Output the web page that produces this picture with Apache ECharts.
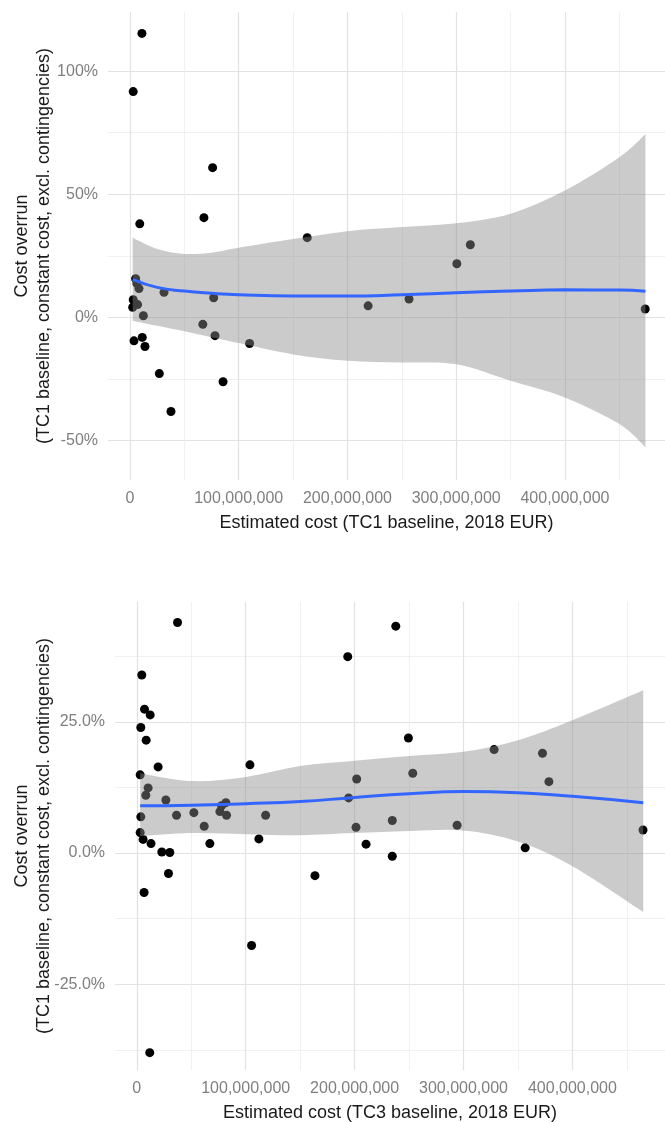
<!DOCTYPE html>
<html lang="en">
<head>
    <meta charset="utf-8">
    <title>Cost overrun vs estimated cost</title>
    <script src="https://cdn.jsdelivr.net/npm/echarts@6/dist/echarts.min.js"></script>
    <style>
        html, body { margin: 0; padding: 0; background: #fff; }
        #chart { width: 665px; height: 1122px; }
    </style>
</head>
<body>
<div id="chart"></div>
<script>
    // ---- top panel: TC1 baseline (cost in million EUR, overrun in %) ----
    var tc1Cost    = [11, 3, 76, 68, 9, 163, 313, 300.6, 219, 256.6, 473.8, 5.2, 6.4, 8.3, 31.3, 77, 3, 7, 2.5, 12.3, 67, 3.7, 11.3, 13.8, 78.2, 110, 27, 85.6, 37.7];
    var tc1Overrun = [115.3, 91.7, 60.8, 40.5, 38, 32.4, 29.5, 21.8, 4.7, 7.5, 3.4, 15.7, 13.7, 11.7, 10.2, 8, 7.2, 5.2, 4.1, 0.7, -2.8, -9.5, -8.1, -11.8, -7.4, -10.6, -22.8, -26.1, -38.2];
    // loess fit + confidence band
    var tc1FitX  = [2.5, 25, 50, 75, 100, 150, 200, 250, 300, 350, 400, 450, 474];
    var tc1Fit   = [15.5, 12.2, 10.7, 9.8, 9.2, 8.7, 8.7, 9.2, 10.0, 10.7, 11.2, 11.1, 10.6];
    var tc1Upper = [32.3, 27.8, 25.8, 26.3, 28.3, 31.8, 35.0, 36.7, 38.2, 42.1, 51.5, 65.0, 74.5];
    var tc1Lower = [-1.3, -3.4, -5.6, -8.0, -10.4, -15.0, -17.6, -18.3, -19.0, -25.7, -32.5, -43.3, -52.8];

    // ---- bottom panel: TC3 baseline ----
    var tc3Cost    = [37.4, 4.6, 7.1, 12.3, 3.7, 8.6, 19.6, 3.1, 103.9, 10.4, 8.3, 26.7, 81.8, 77.8, 3.7, 36.5, 52.4, 76.3, 82.4, 118.3, 61.9, 3.1, 5.8, 13.1, 67.1, 112.1, 23.0, 30.3, 29.1, 6.7, 105.4, 163.6, 11.9, 201.9, 253.4, 378.4, 194.5, 201.3, 234.6, 294.1, 464.8, 210.5, 234.6, 356.6, 237.8, 193.7, 249.4, 328.1, 372.5];
    var tc3Overrun = [43.9, 33.9, 27.4, 26.3, 23.9, 21.5, 16.4, 14.9, 16.8, 12.4, 11.0, 10.1, 9.6, 9.0, 6.9, 7.2, 7.7, 7.9, 7.2, 7.2, 5.1, 3.9, 2.6, 1.8, 1.8, 2.7, 0.2, 0.1, -3.9, -7.5, -17.6, -4.3, -38.0, 14.1, 15.2, 13.6, 10.5, 4.9, 6.2, 5.3, 4.4, 1.7, -0.6, 1.0, 43.2, 37.4, 21.9, 19.7, 19.0];
    var tc3FitX  = [3.1, 50, 100, 150, 200, 250, 300, 350, 400, 465];
    var tc3Fit   = [9.0, 9.1, 9.4, 9.8, 10.6, 11.3, 11.7, 11.5, 10.8, 9.6];
    var tc3Upper = [15.2, 13.7, 14.5, 16.6, 17.6, 18.5, 19.3, 21.5, 25.3, 31.0];
    var tc3Lower = [3.2, 3.8, 3.6, 3.4, 3.8, 4.2, 4.3, 2.2, -2.5, -11.2];

    // tick positions
    var costTicks      = [0, 100, 200, 300, 400];
    var costMinorTicks = [50, 150, 250, 350, 450];
    var tc1Ticks       = [-50, 0, 50, 100];
    var tc1MinorTicks  = [-25, 25, 75];
    var tc3Ticks       = [-25, 0, 25];
    var tc3MinorTicks  = [-37.5, -12.5, 12.5, 37.5];

    var FONT = "'Liberation Sans', Arial, sans-serif";
    var LABEL_COLOR = '#7f7f7f';
    var MAJOR = '#e2e2e2';
    var MINOR = '#ededed';

    function withCommas(m) {
        var s = String(Math.round(m * 1e6));
        return s.replace(/\B(?=(\d{3})+(?!\d))/g, ',');
    }

    function pairs(xs, ys) {
        var out = [];
        for (var i = 0; i < xs.length; i++) out.push([xs[i], ys[i]]);
        return out;
    }

    // catmull-rom -> cubic bezier segments through already projected points
    function curveThrough(pts) {
        var d = '';
        for (var i = 0; i < pts.length - 1; i++) {
            var p0 = pts[i - 1] || pts[i], p1 = pts[i], p2 = pts[i + 1], p3 = pts[i + 2] || pts[i + 1];
            var c1x = p1[0] + (p2[0] - p0[0]) / 6, c1y = p1[1] + (p2[1] - p0[1]) / 6;
            var c2x = p2[0] - (p3[0] - p1[0]) / 6, c2y = p2[1] - (p3[1] - p1[1]) / 6;
            d += ' C' + c1x + ' ' + c1y + ' ' + c2x + ' ' + c2y + ' ' + p2[0] + ' ' + p2[1];
        }
        return d;
    }

    function xAxes(grid, min, max, name) {
        return [
            {
                gridIndex: grid, type: 'value', min: min, max: max,
                name: name, nameLocation: 'middle', nameGap: 34, nameMoveOverlap: false,
                nameTextStyle: { fontFamily: FONT, fontSize: 18, color: '#1a1a1a' },
                axisLine: { show: false },
                axisTick: { show: false, customValues: costTicks },
                axisLabel: { customValues: costTicks, margin: 11, fontFamily: FONT, fontSize: 16, color: LABEL_COLOR, formatter: withCommas },
                splitLine: { show: true, lineStyle: { color: MAJOR, width: 1.2 } }
            },
            {
                gridIndex: grid, type: 'value', min: min, max: max, position: 'top',
                axisLine: { show: false },
                axisTick: { show: false, customValues: costMinorTicks },
                axisLabel: { show: false },
                splitLine: { show: true, lineStyle: { color: MINOR, width: 0.8 } }
            }
        ];
    }

    function yAxes(grid, min, max, ticks, minorTicks, fmt, gap) {
        return [
            {
                gridIndex: grid, type: 'value', min: min, max: max,
                name: 'Cost overrun\n(TC1 baseline, constant cost, excl. contingencies)',
                nameLocation: 'middle', nameRotate: 90, nameGap: gap, nameMoveOverlap: false,
                nameTextStyle: { fontFamily: FONT, fontSize: 18, lineHeight: 22, color: '#1a1a1a', align: 'center' },
                axisLine: { show: false },
                axisTick: { show: false, customValues: ticks },
                axisLabel: { customValues: ticks, margin: 10, fontFamily: FONT, fontSize: 16, color: LABEL_COLOR, formatter: fmt },
                splitLine: { show: true, lineStyle: { color: MAJOR, width: 1.2 } }
            },
            {
                gridIndex: grid, type: 'value', min: min, max: max, position: 'right',
                axisLine: { show: false },
                axisTick: { show: false, customValues: minorTicks },
                axisLabel: { show: false },
                splitLine: { show: true, lineStyle: { color: MINOR, width: 0.8 } }
            }
        ];
    }

    function panelSeries(xi, yi, cost, overrun, fitX, fit, lower, upper) {
        return [
            {
                type: 'scatter', xAxisIndex: xi, yAxisIndex: yi, z: 2,
                symbolSize: 9, itemStyle: { color: '#000', opacity: 1 },
                data: pairs(cost, overrun)
            },
            {   // confidence band, drawn over the points like ggplot does
                type: 'custom', xAxisIndex: xi, yAxisIndex: yi, z: 3, silent: true,
                data: [[fitX[0], upper[0]]],
                renderItem: function (params, api) {
                    var top = [], bottom = [];
                    for (var i = 0; i < fitX.length; i++) {
                        top.push(api.coord([fitX[i], upper[i]]));
                        bottom.push(api.coord([fitX[i], lower[i]]));
                    }
                    bottom.reverse();
                    var d = 'M' + top[0][0] + ' ' + top[0][1] + curveThrough(top) +
                        ' L' + bottom[0][0] + ' ' + bottom[0][1] + curveThrough(bottom) + ' Z';
                    return {
                        type: 'path',
                        shape: { pathData: d },
                        style: { fill: 'rgba(140,140,140,0.45)', stroke: null }
                    };
                }
            },
            {
                type: 'line', xAxisIndex: xi, yAxisIndex: yi, z: 4,
                smooth: true, showSymbol: false, symbol: 'none',
                lineStyle: { color: '#3366FF', width: 3 },
                data: pairs(fitX, fit)
            }
        ];
    }

    var chart = echarts.init(document.getElementById('chart'), null, { renderer: 'canvas' });

    var option = {
        animation: false,
        backgroundColor: '#ffffff',
        grid: [
            { left: 108, right: 0, top: 12, height: 468, outerBoundsMode: 'none' },
            { left: 115, right: 0, top: 602, height: 468, outerBoundsMode: 'none' }
        ],
        xAxis: xAxes(0, -20.2, 492, 'Estimated cost (TC1 baseline, 2018 EUR)')
            .concat(xAxes(1, -20, 485, 'Estimated cost (TC3 baseline, 2018 EUR)')),
        yAxis: yAxes(0, -66, 124, tc1Ticks, tc1MinorTicks, function (v) { return v + '%'; }, 53)
            .concat(yAxes(1, -41.3, 47.8, tc3Ticks, tc3MinorTicks, function (v) { return v.toFixed(1) + '%'; }, 60)),
        series: panelSeries(0, 0, tc1Cost, tc1Overrun, tc1FitX, tc1Fit, tc1Lower, tc1Upper)
            .concat(panelSeries(2, 2, tc3Cost, tc3Overrun, tc3FitX, tc3Fit, tc3Lower, tc3Upper))
    };

    chart.setOption(option);
</script>
</body>
</html>
